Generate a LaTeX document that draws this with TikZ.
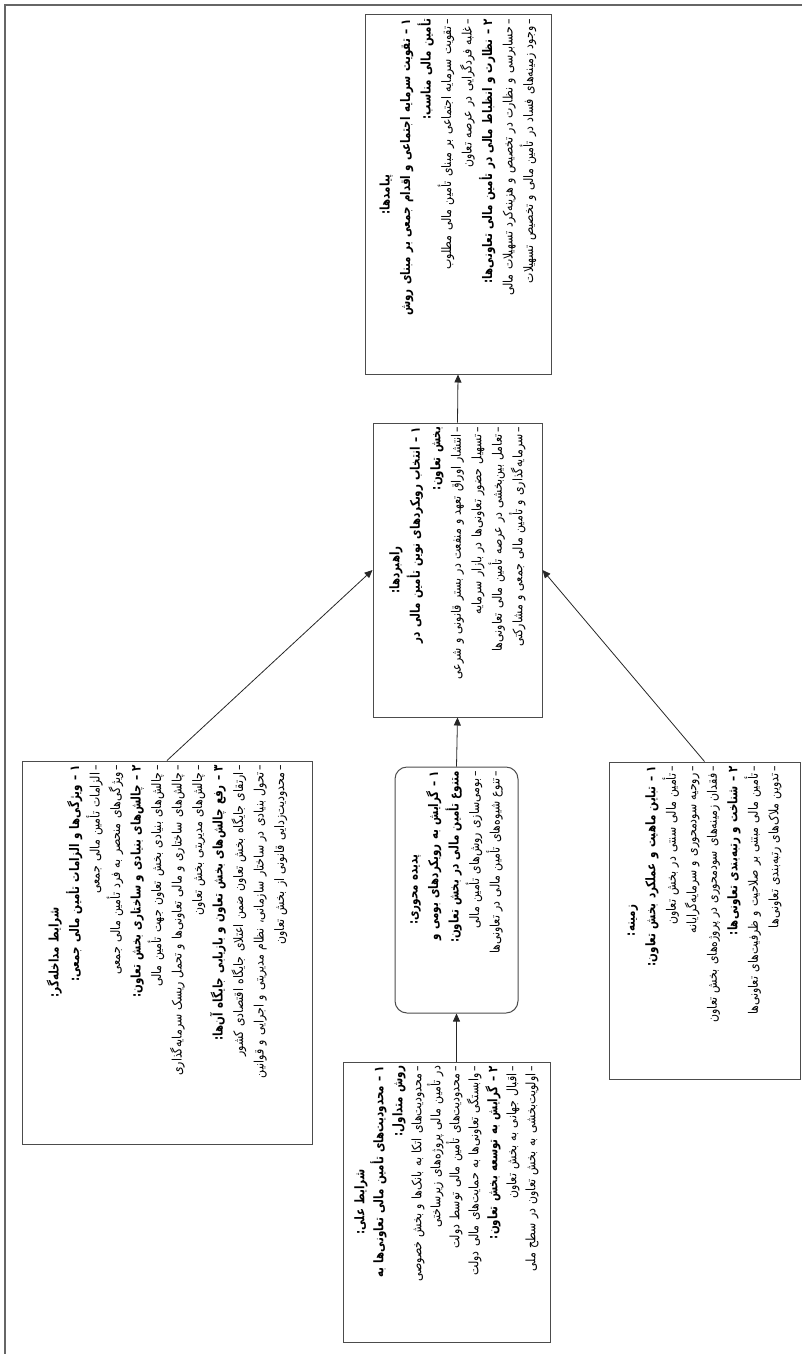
\documentclass[tikz,border=0pt]{standalone}
\usepackage{fontspec}
\usetikzlibrary{arrows.meta}
\newfontfamily\farsifont[Script=Arabic,FakeStretch=0.84,BoldFeatures={FakeStretch=0.78}]{DejaVu Sans}
\TeXXeTstate=1
\newcommand{\rtline}[1]{\beginR #1\endR}
\newcommand{\sartitr}[1]{{\bfseries\fontsize{13.2}{20}\selectfont\beginR #1\endR}}
\newcommand{\onvan}[1]{\makebox[\linewidth]{\bfseries\fontsize{13.2}{20}\selectfont\beginR #1\endR}}
\tikzstyle{pbox} = [draw=black!70, line width=1pt, rectangle, rotate=90,
    inner xsep=4pt, inner ysep=6pt, align=right, font=\farsifont\fontsize{13}{20.5}\selectfont]
\tikzstyle{link} = [-{Triangle[length=8pt,width=7pt]}, line width=0.8pt, black!85]
\tikzstyle{frame} = [line width=1.6pt, black!60]

\begin{document}
\begin{tikzpicture}[x=1pt,y=-1pt]
\useasboundingbox (0,0) rectangle (802,1354);
\draw[frame] (802,5) -- (5,5) -- (5,1354);

\node[pbox, text width=351pt, minimum height=186pt] (payamad) at (458,194.5) {%
    \onvan{پیامدها:}\\
    \sartitr{۱ – تقویت سرمایه اجتماعی و اقدام جمعی بر مبنای روش}\\
    \sartitr{تأمین مالی مناسب:}\\
    \rtline{–\,تقویت سرمایه اجتماعی بر مبنای تأمین مالی مطلوب}\\
    \rtline{–\,غلبه فردگرایی در عرصه تعاون}\\
    \sartitr{۲ – نظارت و انظباط مالی در تأمین مالی تعاونی‌ها:}\\
    \rtline{–\,حسابرسی و نظارت در تخصیص و هزینه‌کرد تسهیلات مالی}\\
    \rtline{–\,وجود زمینه‌های فساد در تأمین مالی و تخصیص تسهیلات}};

\node[pbox, text width=286pt, minimum height=169pt] (rahbord) at (457.5,570) {%
    \onvan{راهبردها:}\\
    \sartitr{۱ – انتخاب رویکردهای نوین تأمین مالی در}\\
    \sartitr{بخش تعاون:}\\
    \rtline{–\,انتشار اوراق تعهد و منفعت در بستر قانونی و شرعی}\\
    \rtline{–\,تسهیل حضور تعاونی‌ها در بازار سرمایه}\\
    \rtline{–\,تعامل بین‌بخشی در عرصه تأمین مالی تعاونی‌ها}\\
    \rtline{–\,سرمایه‌گذاری و تأمین مالی جمعی و مشارکتی}};

\node[pbox, rounded corners=12pt, text width=238pt, minimum height=123pt] (padideh) at (456.5,890) {%
    \onvan{پدیده محوری:}\\
    \sartitr{۱ – گرایش به رویکردهای بومی و}\\
    \sartitr{متنوع تأمین مالی در بخش تعاون:}\\
    \rtline{–\,بومی‌سازی روش‌های تأمین مالی}\\
    \rtline{–\,تنوع شیوه‌های تأمین مالی در تعاونی‌ها}};

\node[pbox, text width=272pt, minimum height=207pt, font=\farsifont\fontsize{13}{19}\selectfont] (elal) at (446.5,1202) {%
    \onvan{شرایط علی:}\\
    \sartitr{۱ – محدودیت‌های تأمین مالی تعاونی‌ها به}\\
    \sartitr{روش متداول:}\\
    \rtline{–\,محدودیت‌های اتکا به بانک‌ها و بخش خصوصی}\\
    \rtline{در تأمین مالی پروژه‌های زیرساختی}\\
    \rtline{–\,محدودیت‌های تأمین مالی توسط دولت}\\
    \rtline{–\,وابستگی تعاونی‌ها به حمایت‌های مالی دولت}\\
    \sartitr{۲ – گرایش به توسعه بخش تعاون:}\\
    \rtline{–\,اقبال جهانی به بخش تعاون}\\
    \rtline{–\,اولویت‌بخشی به بخش تعاون در سطح ملی}};

\node[pbox, text width=375pt, minimum height=290pt] (modakhele) at (167,952.5) {%
    \onvan{شرایط مداخله‌گر:}\\
    \sartitr{۱ – ویژگی‌ها و الزامات تأمین مالی جمعی:}\\
    \rtline{–\,الزامات تأمین مالی جمعی}\\
    \rtline{–\,ویژگی‌های منحصر به فرد تأمین مالی جمعی}\\
    \sartitr{۲ – چالش‌های بنیادی و ساختاری بخش تعاون:}\\
    \rtline{–\,چالش‌های بنیادی بخش تعاون جهت تأمین مالی}\\
    \rtline{–\,چالش‌های ساختاری و مالی تعاونی‌ها و تحمل ریسک سرمایه‌گذاری}\\
    \rtline{–\,چالش‌های مدیریتی بخش تعاون}\\
    \sartitr{۳ – رفع چالش‌های بخش تعاون و بازیابی جایگاه آن‌ها:}\\
    \rtline{–\,ارتقای جایگاه بخش تعاون ضمن اعتلای جایگاه اقتصادی کشور}\\
    \rtline{–\,تحول بنیادی در ساختار سازمانی، نظام مدیریتی و اجرایی و قوانین}\\
    \rtline{–\,محدودیت‌زدایی قانونی از بخش تعاون}};

\node[pbox, text width=309pt, minimum height=191pt] (zamineh) at (704.5,920.5) {%
    \onvan{زمینه:}\\
    \sartitr{۱ – تباین ماهیت و عملکرد بخش تعاون:}\\
    \rtline{–\,تأمین مالی سنتی در بخش تعاون}\\
    \rtline{–\,روحیه سودمحوری و سرمایه‌گرایانه}\\
    \rtline{–\,فقدان زمینه‌های سودمحوری در پروژه‌های بخش تعاون}\\
    \sartitr{۲ – شناخت و رتبه‌بندی تعاونی‌ها:}\\
    \rtline{–\,تأمین مالی مبتنی بر صلاحیت و ظرفیت‌های تعاونی‌ها}\\
    \rtline{–\,تدوین ملاک‌های رتبه‌بندی تعاونی‌ها}};

\draw[link] (rahbord.east) -- (payamad.west);
\draw[link] (padideh.east) -- (rahbord.west);
\draw[link] (elal.east -| padideh.center) -- (padideh.west);
\draw[link] (modakhele.east) -- (rahbord.north);
\draw[link] (zamineh.east) -- (rahbord.south);
\end{tikzpicture}
\end{document}
